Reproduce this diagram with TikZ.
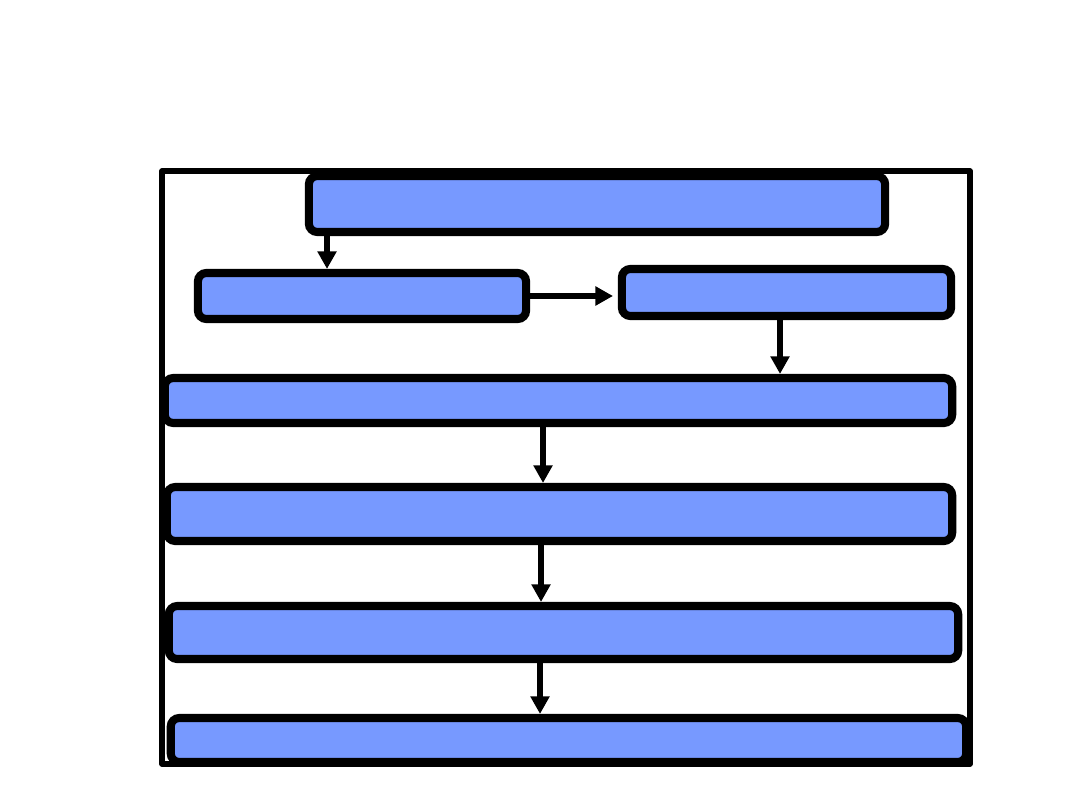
\documentclass[tikz,border=0pt]{standalone}
\usetikzlibrary{arrows.meta}
\definecolor{boxfill}{RGB}{119,153,255}
\begin{document}
\begin{tikzpicture}[x=0.01cm,y=-0.01cm,
  flowbox/.style={draw=black, fill=boxfill, line width=2.3pt, rounded corners=2.4pt, inner sep=0pt},
  arr/.style={draw=black, line width=1.5pt, -{Triangle[width=5.2pt,length=5pt]}},
  frame/.style={draw=black, line width=1.5pt, line join=round}]
\useasboundingbox[fill=white] (0,0) rectangle (1080,810);
\draw[frame] (162,171) rectangle (970,764);
\node[flowbox, minimum width=5.76cm, minimum height=0.56cm] (b1) at (597,204) {};
\node[flowbox, minimum width=3.28cm, minimum height=0.46cm] (b2) at (362,296) {};
\node[flowbox, minimum width=3.29cm, minimum height=0.47cm] (b3) at (786.5,292.5) {};
\node[flowbox, minimum width=7.87cm, minimum height=0.45cm] (b4) at (558.5,400.5) {};
\node[flowbox, minimum width=7.85cm, minimum height=0.54cm] (b5) at (559.5,514) {};
\node[flowbox, minimum width=7.89cm, minimum height=0.53cm] (b6) at (563.5,632.5) {};
\node[flowbox, minimum width=7.95cm, minimum height=0.44cm] (b7) at (568.5,740) {};
\coordinate (x1) at (327,0);
\coordinate (x3) at (780,0);
\coordinate (x4) at (543,0);
\coordinate (x5) at (541,0);
\coordinate (x6) at (540,0);
\coordinate (a2end) at (613,295);
\draw[arr] (b1.south -| x1) -- (b2.north -| x1);
\draw[arr] (b2.east) -- (b2.east -| a2end);
\draw[arr] (b3.south -| x3) -- (b4.north -| x3);
\draw[arr] (b4.south -| x4) -- (b5.north -| x4);
\draw[arr] (b5.south -| x5) -- (b6.north -| x5);
\draw[arr] (b6.south -| x6) -- (b7.north -| x6);
\end{tikzpicture}
\end{document}
